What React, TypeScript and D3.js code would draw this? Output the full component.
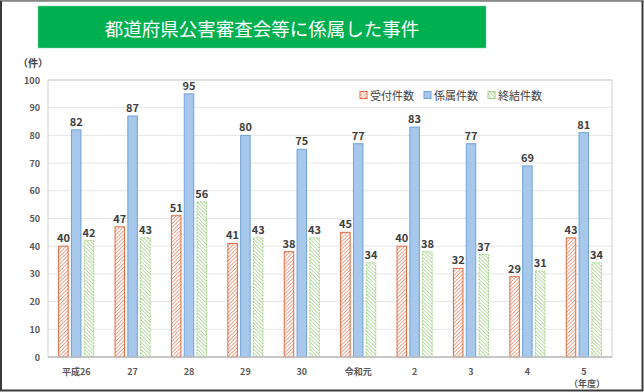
import React from "react";
import * as d3 from "d3";

const width = 644;
const height = 392;
const margin = { top: 80, right: 32, bottom: 35, left: 48 };

const categories = ["平成26", "27", "28", "29", "30", "令和元", "2", "3", "4", "5"];
const seriesNames = ["受付件数", "係属件数", "終結件数"];
const received = [40, 47, 51, 41, 38, 45, 40, 32, 29, 43];
const pending = [82, 87, 95, 80, 75, 77, 83, 77, 69, 81];
const closed = [42, 43, 56, 43, 43, 34, 38, 37, 31, 34];
const yTicks = [0, 10, 20, 30, 40, 50, 60, 70, 80, 90, 100];

const font = "'Noto Sans CJK JP', 'Noto Sans', sans-serif";

const styles = [
  { fill: "url(#hatchRed)", stroke: "#E0683F", dash: undefined as string | undefined },
  { fill: "#A7C8EA", stroke: "#6FA2D8", dash: undefined as string | undefined },
  { fill: "url(#hatchGreen)", stroke: "#A3D08A", dash: "2,1" },
];

export default function App() {
  const series = [received, pending, closed];

  const xScale = d3
    .scaleBand()
    .domain(categories)
    .range([margin.left, width - margin.right])
    .paddingInner(0.36)
    .paddingOuter(0.18);

  const inner = d3
    .scaleBand()
    .domain(seriesNames)
    .range([0, xScale.bandwidth()])
    .paddingInner(0.18);

  const yScale = d3
    .scaleLinear()
    .domain([0, 100])
    .range([height - margin.bottom, margin.top]);

  const plotRight = width - margin.right;
  const plotBottom = height - margin.bottom;

  return (
    <svg
      width={width}
      height={height}
      style={{ position: "absolute", left: 0, top: 0, fontFamily: font }}
    >
      <defs>
        <pattern id="hatchRed" width="2.6" height="2.6" patternUnits="userSpaceOnUse" patternTransform="rotate(45)">
          <rect width="2.6" height="2.6" fill="#fff" />
          <line x1="0" y1="0" x2="0" y2="2.6" stroke="#E0683F" strokeWidth="1.2" />
        </pattern>
        <pattern id="hatchGreen" width="2.6" height="2.6" patternUnits="userSpaceOnUse" patternTransform="rotate(-45)">
          <rect width="2.6" height="2.6" fill="#fff" />
          <line x1="0" y1="0" x2="0" y2="2.6" stroke="#8FC56E" strokeWidth="1.2" />
        </pattern>
      </defs>

      {/* frame */}
      <rect x={0} y={0} width={width} height={height} fill="#fff" />
      <rect x={1} y={0.5} width={width - 2.5} height={height - 2} fill="none" stroke="#3a3a3a" strokeWidth={2} />
      <line x1={0} y1={0.5} x2={width} y2={0.5} stroke="#888" strokeWidth={1} />

      {/* title banner */}
      <rect x={38} y={6} width={448} height={42} fill="#00B050" stroke="#7fd3a4" strokeWidth={0.5} />
      <text x={262} y={28} fill="#fff" fontSize={18.5} textAnchor="middle" dominantBaseline="central">
        都道府県公害審査会等に係属した事件
      </text>

      {/* unit */}
      <text x={33} y={62} fontSize={10} fontWeight="bold" fill="#404040" textAnchor="middle" dominantBaseline="central">
        （件）
      </text>

      {/* grid */}
      {yTicks.map((t) => (
        <g key={t}>
          <line
            x1={margin.left}
            x2={plotRight}
            y1={yScale(t)}
            y2={yScale(t)}
            stroke="#e6e6e6"
            strokeWidth={1}
          />
          <text
            x={40}
            y={yScale(t)}
            fontSize={9}
            fontWeight="bold"
            fill="#595959"
            textAnchor="end"
            dominantBaseline="central"
          >
            {t}
          </text>
        </g>
      ))}

      {/* plot border */}
      <rect
        x={margin.left}
        y={margin.top}
        width={plotRight - margin.left}
        height={plotBottom - margin.top}
        fill="none"
        stroke="#cfcfcf"
        strokeWidth={1}
      />

      {/* bars */}
      {categories.map((c, i) => (
        <g key={c} transform={`translate(${xScale(c)},0)`}>
          {seriesNames.map((s, j) => {
            const v = series[j][i];
            const x = inner(s) as number;
            const y = yScale(v);
            return (
              <g key={s}>
                <rect
                  x={x + 0.5}
                  y={y}
                  width={inner.bandwidth() - 1}
                  height={plotBottom - y}
                  fill={styles[j].fill}
                  stroke={styles[j].stroke}
                  strokeWidth={1}
                  strokeDasharray={styles[j].dash}
                />
                <text
                  x={x + inner.bandwidth() / 2}
                  y={y - 9}
                  fontSize={11}
                  fontWeight="bold"
                  fill="#404040"
                  textAnchor="middle"
                  dominantBaseline="central"
                >
                  {v}
                </text>
              </g>
            );
          })}
          <text
            x={xScale.bandwidth() / 2}
            y={371}
            fontSize={9}
            fontWeight="bold"
            fill="#595959"
            textAnchor="middle"
            dominantBaseline="central"
          >
            {c}
          </text>
        </g>
      ))}

      {/* axis line */}
      <line x1={margin.left} x2={plotRight} y1={plotBottom} y2={plotBottom} stroke="#bfbfbf" strokeWidth={1.5} />

      <text x={587} y={383} fontSize={9} fontWeight="bold" fill="#595959" textAnchor="middle" dominantBaseline="central">
        （年度）
      </text>

      {/* legend */}
      {seriesNames.map((s, j) => (
        <g key={s} transform={`translate(${360 + j * 64},95)`}>
          <rect
            x={0}
            y={-3.5}
            width={7}
            height={7}
            fill={styles[j].fill}
            stroke={styles[j].stroke}
            strokeWidth={1}
          />
          <text x={10} y={0} fontSize={11} fill="#404040" dominantBaseline="central">
            {s}
          </text>
        </g>
      ))}
    </svg>
  );
}
